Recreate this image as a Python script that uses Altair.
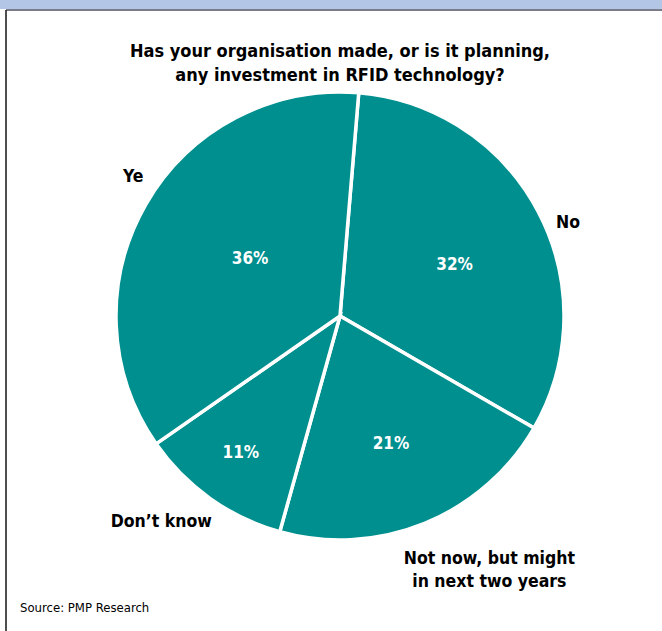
import math
import altair as alt
import pandas as pd

# ---- data ----
categories = ["No", "Not now, but might\nin next two years", "Don’t know", "Ye"]
shares = [32, 21, 11, 36]
pct_labels = ["32%", "21%", "11%", "36%"]
slice_order = [0, 1, 2, 3]

title_lines = "Has your organisation made, or is it planning,\nany investment in RFID technology?"
source_text = "Source: PMP Research"

df = pd.DataFrame({
    "category": categories,
    "share": shares,
    "pct": pct_labels,
    "order": slice_order,
})

W, H = 662, 631
CX, CY, R = 340, 316, 224
TEAL = "#008F8F"
FONT = "Liberation Sans Narrow, DejaVu Sans Condensed, Arial Narrow, sans-serif"
OFFSET = math.radians(4.8)
theta_scale = alt.Scale(domain=[0, 100], range=[OFFSET, OFFSET + 2 * math.pi])

base = alt.Chart(df)

pie = base.mark_arc(outerRadius=R, stroke="white", strokeWidth=3.5, color=TEAL).encode(
    theta=alt.Theta("share:Q", stack=True, scale=theta_scale),
    order=alt.Order("order:Q"),
    x=alt.value(CX),
    y=alt.value(CY),
)

stacked = base.transform_window(
    cum="sum(share)", sort=[alt.SortField("order")]
).transform_calculate(mid="datum.cum - datum.share / 2")


def label_layer(cat, field, radius, dx, dy, color, size, baseline="middle"):
    return stacked.transform_filter(alt.datum.category == cat).mark_text(
        radius=radius, dx=dx, dy=dy, color=color, fontSize=size, fontWeight="bold",
        font=FONT, lineBreak="\n", align="center", baseline=baseline, lineHeight=23,
    ).encode(
        theta=alt.Theta("mid:Q", scale=theta_scale),
        text=alt.Text(f"{field}:N"),
        x=alt.value(CX),
        y=alt.value(CY),
    )


# percentage labels inside slices (radius + small nudges for placement)
pct_nudges = {"No": (-5, 12), categories[1]: (0, 3), "Don’t know": (-21, 27), "Ye": (27, 10)}
# category labels outside the pie
out_nudges = {"No": (2, 25), categories[1]: (53, 7), "Don’t know": (-31, -2), "Ye": (14, -12)}

layers = [pie]
for c in categories:
    dx, dy = pct_nudges[c]
    layers.append(label_layer(c, "pct", 135, dx, dy, "white", 17))
for c in categories:
    dx, dy = out_nudges[c]
    layers.append(label_layer(c, "category", 255, dx, dy, "black", 17.5))

# frame: blue band, grey rule, left border
band = alt.Chart(pd.DataFrame({"a": [0]})).mark_rect(color="#B4C6E6").encode(
    x=alt.value(0), x2=alt.value(W), y=alt.value(0), y2=alt.value(9)
)
band_rule = alt.Chart(pd.DataFrame({"a": [0]})).mark_rule(color="#7A7D88", strokeWidth=2).encode(
    x=alt.value(6), x2=alt.value(W), y=alt.value(10)
)
left_rule = alt.Chart(pd.DataFrame({"a": [0]})).mark_rule(color="#222222", strokeWidth=1.6).encode(
    x=alt.value(6), y=alt.value(10), y2=alt.value(H)
)

title = alt.Chart(pd.DataFrame({"t": [title_lines]})).mark_text(
    font=FONT, fontSize=18, fontWeight="bold", align="center", baseline="alphabetic",
    lineBreak="\n", lineHeight=24, color="black",
).encode(text="t:N", x=alt.value(340), y=alt.value(57))

source = alt.Chart(pd.DataFrame({"t": [source_text]})).mark_text(
    font=FONT, fontSize=13, align="left", baseline="alphabetic", color="black",
).encode(text="t:N", x=alt.value(20), y=alt.value(612))

chart = alt.layer(band, band_rule, left_rule, title, source, *layers).properties(
    width=W, height=H, padding=0, autosize=alt.AutoSizeParams(type="none"), background="white"
).configure_view(stroke=None)

chart.save("out.html", embed_options={"renderer": "svg", "actions": False})
